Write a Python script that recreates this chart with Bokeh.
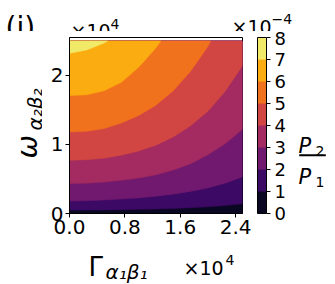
import math
from bokeh.plotting import figure
from bokeh.layouts import column, row
from bokeh.models import (ColorBar, LinearColorMapper, FixedTicker, Label, Range1d)
from bokeh.palettes import Inferno256
from bokeh.embed import file_html
from bokeh.resources import INLINE

# ---------------- data ----------------
levels = [0, 1, 2, 3, 4, 5, 6, 7, 8]            # P2/P1 in units of 1e-4
x_ticks = [0.0, 0.8, 1.6, 2.4]                  # Gamma, x1e4
x_tick_labels = ["0.0", "0.8", "1.6", "2.4"]
y_ticks = [0, 1, 2]                             # omega, x1e4
y_tick_labels = ["0", "1", "2"]
gamma_max = 2.5
omega_max = 2.5

# contour boundaries: level k separates band k-1 / band k
c1_x = [0, 0.25, 0.5, 0.75, 1.0, 1.25, 1.5, 1.75, 2.0, 2.25, 2.5]
c1_y = [0.05, 0.05, 0.052, 0.055, 0.06, 0.065, 0.072, 0.083, 0.097, 0.115, 0.14]
c2_x = [0, 0.25, 0.5, 0.75, 1.0, 1.25, 1.5, 1.75, 2.0, 2.25, 2.5]
c2_y = [0.18, 0.185, 0.195, 0.21, 0.225, 0.25, 0.28, 0.32, 0.37, 0.44, 0.53]
c3_x = [0, 0.25, 0.5, 0.75, 1.0, 1.25, 1.5, 1.75, 2.0, 2.25, 2.5]
c3_y = [0.435, 0.44, 0.455, 0.48, 0.515, 0.56, 0.63, 0.72, 0.85, 1.01, 1.22]
c4_x = [0, 0.25, 0.5, 0.75, 1.0, 1.25, 1.5, 1.75, 2.0, 2.25, 2.5]
c4_y = [0.77, 0.78, 0.80, 0.845, 0.905, 0.99, 1.11, 1.27, 1.48, 1.77, 2.14]
c5_x = [0, 0.25, 0.5, 0.75, 1.0, 1.25, 1.5, 1.75, 2.0, 2.04]
c5_y = [1.18, 1.19, 1.23, 1.31, 1.42, 1.57, 1.78, 2.06, 2.42, 2.5]
c6_x = [0, 0.25, 0.5, 0.75, 1.0, 1.25, 1.32]
c6_y = [1.71, 1.72, 1.78, 1.90, 2.12, 2.40, 2.5]
c7_x = [0, 0.25, 0.5, 0.55]
c7_y = [2.32, 2.37, 2.47, 2.5]

curves = [(c1_x, c1_y), (c2_x, c2_y), (c3_x, c3_y), (c4_x, c4_y),
          (c5_x, c5_y), (c6_x, c6_y), (c7_x, c7_y)]

colors = [Inferno256[16 + 32 * i] for i in range(8)]

FONT = "DejaVu Sans"
W, H = 335, 284
TOP_H = 31          # top text strip
BOT_Y = 248         # bottom text strip starts here
LEFT_W = 42
RIGHT_X = 292
FL, FT, FR, FB = 69, 37, 242, 213   # frame of the main plot in page pixels


def tidy(f):
    for attr, val in (("frame_align", False), ("margin", 0)):
        try:
            setattr(f, attr, val)
        except Exception:
            pass
    if f.title is not None:
        f.title.visible = False


# ---------------- main figure ----------------
p = figure(width=RIGHT_X - LEFT_W, height=BOT_Y - TOP_H,
           x_range=Range1d(0, 2.5), y_range=Range1d(0, 2.55),
           output_backend="svg", toolbar_location=None,
           min_border_left=FL - LEFT_W, min_border_right=RIGHT_X - FR,
           min_border_top=FT - TOP_H, min_border_bottom=BOT_Y - FB)
p.background_fill_color = "white"
p.border_fill_color = "white"
tidy(p)

xs = [[0, gamma_max, gamma_max, 0]]
ys = [[0, 0, omega_max, omega_max]]
for cx, cy in curves:
    px = list(cx)
    py = list(cy)
    if py[-1] < omega_max:
        px.append(gamma_max)
        py.append(omega_max)
    px.append(0)
    py.append(omega_max)
    xs.append(px)
    ys.append(py)
p.patches(xs, ys, fill_color=colors, line_color=colors, line_width=0.5)

for ax, ticks, labs in ((p.xaxis, x_ticks, x_tick_labels), (p.yaxis, y_ticks, y_tick_labels)):
    ax.ticker = FixedTicker(ticks=ticks)
    ax.major_label_overrides = {t: l for t, l in zip(ticks, labs)}
    ax.major_tick_out = 4
    ax.major_tick_in = 0
    ax.minor_tick_out = 0
    ax.minor_tick_in = 0
    ax.axis_line_color = "black"
    ax.major_tick_line_color = "black"
    ax.major_label_text_font = FONT
    ax.major_label_text_font_size = "20px"
    ax.major_label_text_color = "black"
    ax.major_label_standoff = 2
p.grid.visible = False
p.outline_line_color = "black"
p.outline_line_alpha = 1.0
p.outline_line_width = 1

mapper = LinearColorMapper(palette=colors, low=levels[0], high=levels[-1])
cb = ColorBar(color_mapper=mapper, ticker=FixedTicker(ticks=levels),
              width=9, height=FB - FT, location=(15, 0), padding=0, margin=0,
              major_label_text_font=FONT, major_label_text_font_size="18px",
              major_label_text_color="black",
              major_tick_in=0, major_tick_out=4, major_tick_line_color="black",
              bar_line_color="black", border_line_color=None,
              background_fill_alpha=0, label_standoff=4)
p.add_layout(cb, "right")


# ---------------- text strips ----------------
def strip(x0, y0, w, h, fy0=None, fy1=None):
    if fy0 is None:
        fy0, fy1 = y0, y0 + h
    f = figure(width=w, height=h, x_range=Range1d(0, w), y_range=Range1d(0, fy1 - fy0),
               output_backend="svg", toolbar_location=None,
               min_border_left=0, min_border_right=0,
               min_border_top=fy0 - y0, min_border_bottom=y0 + h - fy1,
               x_axis_location=None, y_axis_location=None)
    f.outline_line_color = None
    f.background_fill_color = "white"
    f.border_fill_color = "white"
    f.grid.visible = False
    tidy(f)
    f._origin = (x0, fy1)
    return f


def lab(f, text, X, Y, size, style="normal", angle=0.0):
    x0, fbot = f._origin
    f.add_layout(Label(x=X - x0, y=fbot - Y, text=text, text_font=FONT,
                       text_font_size=f"{size}px", text_font_style=style,
                       text_color="black", text_baseline="alphabetic",
                       text_align="left", angle=angle))


top = strip(0, 0, W, TOP_H)
left = strip(0, TOP_H, LEFT_W, BOT_Y - TOP_H, FT, FB)
right = strip(RIGHT_X, TOP_H, W - RIGHT_X, BOT_Y - TOP_H, FT, FB)
bottom = strip(0, BOT_Y, W, H - BOT_Y)

lab(top, "(j)", 5, 27, 28)
lab(top, "×10", 70, 30, 19)
lab(top, "4", 110, 23, 14)
lab(top, "×10", 231, 26, 19)
lab(top, "−4", 271, 18, 14)

lab(bottom, "×10", 183, 267, 19)
lab(bottom, "4", 225, 259, 14)
lab(bottom, "Γ", 88, 266, 26)
lab(bottom, "α₁β₁", 105, 271, 20, "italic")

lab(left, "ω", 27, 158, 28, "italic", math.pi / 2)
lab(left, "α₂β₂", 34, 130, 20, "italic", math.pi / 2)

lab(right, "P", 298, 145, 21, "italic")
lab(right, "2", 315, 150, 14)
lab(right, "P", 298, 176, 21, "italic")
lab(right, "1", 315, 181, 14)
rx0, rbot = right._origin
right.segment(x0=[298.7 - rx0], x1=[325.3 - rx0], y0=[rbot - 154.7],
              y1=[rbot - 154.7], line_color="black", line_width=2)

mid = row(left, p, right, spacing=0)
layout = column(top, mid, bottom, spacing=0)
for lay in (mid, layout):
    try:
        lay.margin = 0
    except Exception:
        pass
open("out.html", "w").write(file_html(layout, INLINE))
